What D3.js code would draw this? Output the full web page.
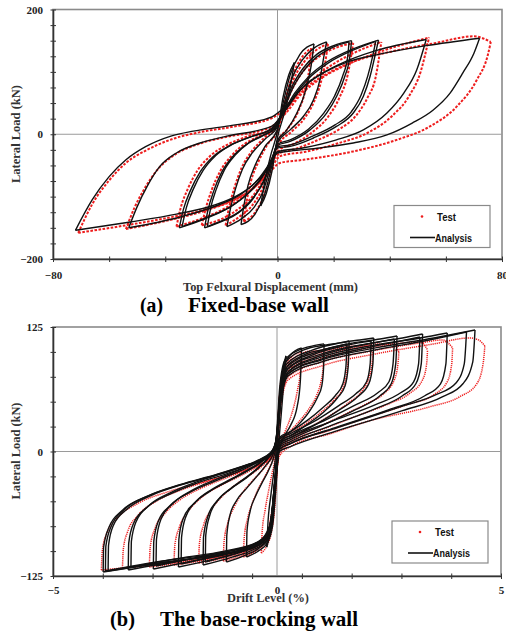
<!DOCTYPE html>
<html>
<head>
<meta charset="utf-8">
<script src="https://cdn.jsdelivr.net/npm/d3@7"></script>
<style>
  html, body { margin: 0; padding: 0; background: #fff; }
  svg { display: block; }
  .serif { font-family: "Liberation Serif", "Times New Roman", serif; font-weight: bold; }
  .sans { font-family: "Liberation Sans", Arial, sans-serif; font-weight: bold; }
</style>
</head>
<body>
<svg id="chart" width="506" height="635"></svg>
<script>
'use strict';

/*
  Hysteresis loops. Each loop is a pair of
  branches [upper, lower], both listed with increasing drift so they can be
  drawn with a monotone curve. Points are [displacement, load].
*/

// (a) fixed-base wall, analysis: [mm, kN]
var fixedAnalysis = [
  [[[-6, -115], [-4.5, -75], [-2.5, -35], [0, 5], [2, 60], [4, 95], [6, 115]],
   [[-6, -115], [-4, -95], [-2, -60], [0, -5], [2.5, 35], [4.5, 75], [6, 115]]],
  [[[-13, -145], [-12, -115], [-10.5, -82], [-8, -50], [-4.5, -20], [0, 8], [2, 50], [4.5, 95], [8, 128], [13, 145]],
   [[-13, -145], [-8, -128], [-4.5, -95], [-2, -50], [0, -10], [3, 5], [7, 35], [10, 70], [12, 110], [13, 145]]],
  [[[-18, -148], [-16.8, -120], [-15, -88], [-12.5, -56], [-9, -30], [-4.5, -8], [0, 12], [2.5, 50], [5, 88], [9, 120], [13, 138], [17.5, 148]],
   [[-18, -148], [-13, -136], [-8.5, -118], [-5, -90], [-2.5, -52], [0, -14], [4.5, 7], [9.2, 28.5], [12.8, 55], [15.1, 87], [16.3, 119], [17.5, 148]]],
  [[[-26, -150], [-24.8, -122], [-22.8, -92], [-20, -62], [-16, -36], [-11, -16], [-5, -2], [-1, 10], [2, 40], [5, 75], [9, 105], [14, 128], [20, 142], [26.4, 150]],
   [[-26, -150], [-20, -140], [-14, -126], [-9, -105], [-5, -75], [-2, -42], [0, -18], [4.5, -11.5], [11.6, 7], [17.5, 34], [21.1, 61], [24, 93], [25.8, 125], [26.4, 150]]],
  [[[-25, -148], [-23.8, -118], [-21.8, -88], [-19, -58], [-15, -33], [-10, -13], [-4.5, 0], [-1, 8], [2, 36], [5, 70], [9, 100], [14, 124], [19.5, 139], [25.5, 148]],
   [[-25, -148], [-19, -137], [-13, -122], [-8.5, -101], [-4.5, -72], [-2, -40], [0, -16], [4.5, -9], [11, 8], [16.5, 34], [20.3, 61], [23.2, 93], [25, 124], [25.5, 148]]],
  [[[-35, -150], [-33.5, -120], [-31, -90], [-27.5, -60], [-23, -36], [-17, -18], [-10, -5], [-2, 10], [2, 35], [6, 65], [11, 92], [18, 117], [27, 137], [36, 151]],
   [[-35, -150], [-26, -136], [-17, -117], [-10, -93], [-5, -66], [-2, -40], [0, -22], [4.5, -19.5], [12.8, -6], [21, 12.5], [27, 34], [30.6, 61], [33, 93], [34.7, 125], [36, 151]]],
  [[[-34, -148], [-32.5, -118], [-30, -88], [-26.5, -58], [-22, -34], [-16, -16], [-9, -3], [-2, 8], [2, 32], [6, 62], [11, 89], [18, 114], [26.5, 134], [35, 149]],
   [[-34, -148], [-25, -133], [-16, -114], [-9.5, -90], [-4.8, -63], [-2, -38], [0, -20], [4.5, -17], [12.5, -3], [20.5, 15], [26.3, 36], [29.8, 63], [32.2, 94], [33.9, 125], [35, 149]]],
  [[[-53, -150], [-50, -116], [-46.5, -84], [-42, -52], [-36, -30], [-27.6, -14], [-18, -3], [-2, 13], [3, 40], [8, 70], [14, 92], [22, 112], [35, 134], [53, 152]],
   [[-53, -150], [-35, -133], [-22, -115], [-13, -96], [-7, -73], [-2.5, -45], [0, -28], [9, -22], [21, -9], [30.6, 7], [39, 34], [45, 66], [49.6, 103], [53, 152]]],
  [[[-72, -154], [-66, -105], [-60, -68], [-54, -41], [-47, -20], [-38, -3], [-30, 5], [-18, 13], [-2, 28], [4, 50], [10, 80], [17, 100], [25, 116], [36, 128], [53, 142], [72, 154]],
   [[-72, -154], [-53, -141], [-36, -128], [-25, -117], [-16, -102], [-9, -82], [-3, -52], [0, -30], [4.5, -27], [15, -22], [27, -14], [39, -1], [48, 18], [55.5, 39], [61.5, 66], [66, 98], [70, 130], [72, 154]]]
];

// (a) fixed-base wall, test
var fixedTest = [
  [[[-12, -140], [-11, -108], [-9.5, -76], [-7, -46], [-3.8, -18], [0.5, 10], [2.5, 50], [5, 90], [8.5, 122], [12, 138]],
   [[-12, -140], [-7.5, -122], [-4.2, -90], [-1.8, -48], [0.5, -8], [3.5, 8], [7.5, 38], [10, 72], [11.3, 105], [12, 138]]],
  [[[-18.5, -146], [-17.2, -116], [-15.3, -85], [-12.8, -54], [-9.3, -28], [-4.8, -6], [0, 14], [2.5, 48], [5.5, 86], [9.5, 116], [13.5, 134], [18, 145]],
   [[-18.5, -146], [-13.5, -132], [-9, -114], [-5.3, -86], [-2.5, -50], [0.5, -16], [5, 4], [9.5, 25], [13, 52], [15.5, 84], [17, 115], [18, 145]]],
  [[[-27, -146], [-25.5, -118], [-23.5, -90], [-20.5, -60], [-16.5, -35], [-11.5, -15], [-5, 0], [-1, 9], [2, 36], [5, 70], [9, 100], [15, 125], [21, 139], [27, 146]],
   [[-27, -146], [-20, -136], [-14, -120], [-9, -100], [-5, -72], [-2, -42], [1, -24], [6, -15], [12, 2], [18, 28], [22, 58], [25, 95], [27, 146]]],
  [[[-36, -148], [-34.5, -118], [-32, -88], [-28.5, -58], [-24, -35], [-18, -17], [-11, -4], [-2, 8], [2, 30], [6, 58], [12, 86], [19, 110], [28, 132], [37, 148]],
   [[-36, -148], [-27, -135], [-18, -117], [-11, -95], [-5.5, -70], [-2, -44], [1, -30], [6, -24], [14, -10], [22, 8], [28, 30], [32, 58], [35, 92], [37, 148]]],
  [[[-54, -152], [-51, -118], [-47.5, -88], [-43, -58], [-37, -34], [-29, -17], [-19, -5], [-3, 10], [3, 34], [8, 62], [15, 88], [24, 110], [37, 133], [54, 155]],
   [[-54, -152], [-37, -136], [-24, -120], [-14, -102], [-7, -80], [-2, -52], [1, -35], [10, -28], [22, -14], [32, 2], [41, 30], [47, 62], [51, 100], [54, 155]]],
  [[[-71, -158], [-66, -112], [-60, -74], [-54, -46], [-46, -24], [-37, -7], [-28, 3], [-16, 12], [-2, 26], [4, 46], [10, 74], [18, 98], [28, 118], [40, 132], [56, 146], [70, 157], [76, 148]],
   [[-71, -158], [-54, -146], [-38, -133], [-26, -121], [-16, -106], [-9, -88], [-3, -62], [0.9, -46], [9.2, -41], [27, -27.5], [42.5, -9], [54.3, 12.5], [64, 45], [71, 87], [75, 128], [76, 148]]]
];

// (b) base-rocking wall, analysis: [% drift, kN]
var rockingAnalysis = [
  [[[-0.23, -96], [-0.2, -70], [-0.14, -45], [-0.07, -20], [0, 10], [0.06, 50], [0.13, 82], [0.2, 96]],
   [[-0.23, -96], [-0.16, -82], [-0.1, -55], [-0.04, -25], [0.03, 5], [0.09, 35], [0.15, 68], [0.2, 96]]],
  [[[-0.68, -106], [-0.67, -80], [-0.6, -60], [-0.48, -45], [-0.34, -32], [-0.2, -20], [-0.09, -8], [-0.02, 6], [0.04, 40], [0.12, 80], [0.3, 97], [0.55, 104]],
   [[-0.68, -106], [-0.42, -100], [-0.22, -92], [-0.1, -75], [-0.03, -40], [0.03, -4], [0.15, 14], [0.3, 26], [0.45, 45], [0.52, 70], [0.55, 104]]],
  [[[-1.13, -111], [-1.12, -84], [-1.05, -64], [-0.9, -49], [-0.68, -37], [-0.45, -25], [-0.25, -14], [-0.1, -4], [-0.03, 6], [0, 22], [0.06, 64], [0.18, 92], [0.5, 102], [0.8, 106], [1.05, 108]],
   [[-1.13, -111], [-0.7, -104], [-0.4, -97], [-0.2, -88], [-0.1, -70], [-0.03, -28], [0.04, 12], [0.25, 18], [0.5, 28], [0.72, 40], [0.9, 54], [1, 66], [1.04, 84], [1.05, 108]]],
  [[[-1.65, -114], [-1.64, -86], [-1.55, -66], [-1.35, -50], [-1.05, -38], [-0.7, -27], [-0.4, -16], [-0.18, -6], [-0.05, 4], [0, 20], [0.07, 62], [0.2, 90], [0.6, 102], [1.1, 107], [1.4, 109], [1.61, 111]],
   [[-1.65, -114], [-1, -106], [-0.55, -99], [-0.25, -90], [-0.12, -72], [-0.04, -30], [0.05, 10], [0.3, 16], [0.7, 28], [1.05, 40], [1.35, 54], [1.52, 66], [1.59, 86], [1.61, 111]]],
  [[[-1.6, -111], [-1.59, -84], [-1.5, -64], [-1.3, -48], [-1, -36], [-0.66, -25], [-0.37, -14], [-0.16, -4], [-0.04, 6], [0, 20], [0.07, 56], [0.2, 84], [0.6, 97], [1.1, 103], [1.38, 106], [1.56, 108]],
   [[-1.6, -111], [-0.98, -103], [-0.54, -96], [-0.24, -86], [-0.12, -68], [-0.04, -26], [0.05, 14], [0.3, 20], [0.7, 32], [1.02, 44], [1.3, 56], [1.47, 68], [1.54, 86], [1.56, 108]]],
  [[[-2.2, -116], [-2.19, -88], [-2.1, -68], [-1.85, -52], [-1.5, -40], [-1.05, -29], [-0.6, -18], [-0.28, -8], [-0.08, 2], [0, 18], [0.07, 60], [0.22, 88], [0.8, 102], [1.4, 109], [1.85, 112], [2.16, 114]],
   [[-2.2, -116], [-1.4, -108], [-0.8, -101], [-0.3, -91], [-0.13, -74], [-0.05, -32], [0.05, 8], [0.3, 14], [0.9, 28], [1.4, 42], [1.8, 55], [2.05, 68], [2.14, 88], [2.16, 114]]],
  [[[-2.14, -113], [-2.13, -86], [-2.04, -66], [-1.8, -50], [-1.45, -38], [-1, -27], [-0.56, -16], [-0.25, -6], [-0.07, 4], [0, 18], [0.07, 54], [0.22, 82], [0.8, 97], [1.4, 105], [1.82, 109], [2.1, 111]],
   [[-2.14, -113], [-1.36, -105], [-0.78, -98], [-0.3, -88], [-0.13, -70], [-0.05, -28], [0.05, 12], [0.3, 18], [0.9, 32], [1.38, 46], [1.76, 58], [2, 70], [2.08, 88], [2.1, 111]]],
  [[[-2.76, -118], [-2.75, -90], [-2.65, -70], [-2.38, -54], [-1.95, -41], [-1.4, -30], [-0.85, -20], [-0.4, -10], [-0.1, 0], [0, 16], [0.08, 58], [0.25, 86], [0.9, 100], [1.7, 109], [2.3, 113], [2.68, 116]],
   [[-2.76, -118], [-1.8, -109], [-1, -102], [-0.35, -92], [-0.14, -76], [-0.05, -34], [0.05, 6], [0.3, 12], [1.1, 28], [1.75, 42], [2.3, 56], [2.55, 68], [2.65, 88], [2.68, 116]]],
  [[[-2.7, -115], [-2.69, -88], [-2.59, -68], [-2.32, -52], [-1.9, -39], [-1.36, -28], [-0.82, -18], [-0.38, -8], [-0.09, 2], [0, 16], [0.08, 52], [0.25, 80], [0.9, 95], [1.7, 105], [2.26, 110], [2.62, 113]],
   [[-2.7, -115], [-1.76, -106], [-0.98, -99], [-0.35, -89], [-0.14, -72], [-0.05, -30], [0.05, 10], [0.3, 16], [1.1, 32], [1.72, 46], [2.25, 59], [2.5, 70], [2.59, 88], [2.62, 113]]],
  [[[-3.32, -119], [-3.31, -92], [-3.2, -72], [-2.9, -56], [-2.4, -43], [-1.8, -32], [-1.1, -22], [-0.5, -12], [-0.12, -2], [0, 14], [0.08, 55], [0.25, 83], [1, 98], [2, 108], [2.8, 114], [3.25, 118]],
   [[-3.32, -119], [-2.2, -110], [-1.2, -103], [-0.4, -93], [-0.16, -78], [-0.05, -36], [0.05, 4], [0.3, 10], [1.2, 26], [2.2, 43], [2.8, 56], [3.1, 68], [3.22, 88], [3.25, 118]]],
  [[[-3.26, -116], [-3.25, -90], [-3.14, -70], [-2.85, -54], [-2.36, -41], [-1.76, -30], [-1.08, -20], [-0.48, -10], [-0.11, 0], [0, 14], [0.08, 50], [0.25, 78], [1, 93], [2, 104], [2.76, 111], [3.19, 115]],
   [[-3.26, -116], [-2.16, -107], [-1.18, -100], [-0.4, -90], [-0.16, -74], [-0.05, -32], [0.05, 8], [0.3, 14], [1.2, 30], [2.2, 47], [2.76, 59], [3.05, 70], [3.16, 88], [3.19, 115]]],
  [[[-3.77, -120], [-3.76, -94], [-3.65, -74], [-3.35, -58], [-2.8, -44], [-2.1, -33], [-1.3, -23], [-0.6, -13], [-0.15, -4], [0, 12], [0.08, 52], [0.25, 80], [1, 95], [2.2, 107], [3.2, 114], [3.8, 119]],
   [[-3.77, -120], [-2.5, -111], [-1.4, -104], [-0.45, -94], [-0.18, -80], [-0.05, -38], [0.05, 2], [0.3, 8], [1.3, 24], [2.5, 42], [3.3, 56], [3.65, 68], [3.77, 88], [3.8, 119]]],
  [[[-3.83, -120], [-3.82, -95], [-3.7, -75], [-3.4, -58], [-2.85, -44], [-2.15, -33], [-1.35, -23], [-0.65, -13], [-0.18, -5], [0, 11], [0.08, 48], [0.25, 76], [1, 90], [2.2, 102], [3.4, 112], [4.23, 120]],
   [[-3.83, -120], [-2.55, -110], [-1.45, -103], [-0.48, -93], [-0.19, -80], [-0.05, -38], [0.05, 2], [0.3, 8], [1.35, 24], [2.7, 44], [3.55, 57], [4, 69], [4.18, 88], [4.23, 120]]],
  [[[-3.88, -121], [-3.87, -96], [-3.75, -76], [-3.45, -59], [-2.9, -45], [-2.2, -34], [-1.4, -24], [-0.7, -14], [-0.2, -6], [0, 10], [0.08, 50], [0.25, 78], [1, 92], [2.2, 104], [3.5, 114], [4.42, 122]],
   [[-3.88, -121], [-2.6, -112], [-1.5, -105], [-0.5, -95], [-0.2, -82], [-0.05, -40], [0.05, 0], [0.3, 5], [1.35, 21], [2.8, 41], [3.7, 55], [4.15, 68], [4.37, 90], [4.42, 122]]]
];

// (b) base-rocking wall, test
var rockingTest = [
  [[[-0.35, -102], [-0.33, -80], [-0.27, -60], [-0.19, -40], [-0.11, -22], [-0.04, -6], [0.01, 20], [0.06, 58], [0.15, 84], [0.35, 96], [0.55, 100]],
   [[-0.35, -102], [-0.22, -94], [-0.12, -80], [-0.05, -56], [0, -20], [0.06, 6], [0.18, 20], [0.33, 38], [0.45, 60], [0.52, 80], [0.55, 100]]],
  [[[-0.75, -106], [-0.73, -86], [-0.66, -68], [-0.55, -52], [-0.42, -38], [-0.28, -26], [-0.15, -14], [-0.05, -3], [0, 14], [0.06, 56], [0.16, 84], [0.45, 96], [0.8, 101], [0.98, 101], [1.04, 94]],
   [[-0.75, -106], [-0.48, -100], [-0.28, -92], [-0.15, -82], [-0.08, -66], [-0.02, -30], [0.04, 6], [0.2, 16], [0.45, 28], [0.7, 42], [0.88, 56], [0.98, 70], [1.03, 84], [1.04, 94]]],
  [[[-1.2, -110], [-1.18, -90], [-1.1, -72], [-0.96, -56], [-0.78, -42], [-0.56, -30], [-0.35, -20], [-0.17, -10], [-0.04, 0], [0, 16], [0.06, 56], [0.18, 84], [0.6, 96], [1.1, 103], [1.45, 105], [1.6, 98]],
   [[-1.2, -110], [-0.75, -104], [-0.42, -97], [-0.22, -88], [-0.12, -76], [-0.04, -40], [0.04, 6], [0.25, 16], [0.65, 28], [1, 40], [1.28, 52], [1.47, 64], [1.56, 80], [1.6, 98]]],
  [[[-1.75, -112], [-1.73, -92], [-1.64, -74], [-1.46, -58], [-1.2, -44], [-0.88, -32], [-0.55, -22], [-0.27, -12], [-0.07, -2], [0, 14], [0.07, 54], [0.2, 82], [0.7, 95], [1.3, 103], [1.85, 106], [2.06, 106], [2.14, 98]],
   [[-1.75, -112], [-1.1, -106], [-0.6, -99], [-0.3, -90], [-0.15, -78], [-0.05, -42], [0.05, 4], [0.3, 14], [0.8, 26], [1.25, 38], [1.6, 49], [1.88, 60], [2.05, 74], [2.12, 88], [2.14, 98]]],
  [[[-2.3, -114], [-2.28, -94], [-2.18, -76], [-1.98, -60], [-1.68, -46], [-1.25, -34], [-0.8, -24], [-0.4, -14], [-0.1, -4], [0, 12], [0.07, 52], [0.22, 80], [0.8, 94], [1.6, 103], [2.3, 108], [2.6, 108], [2.72, 100]],
   [[-2.3, -114], [-1.5, -108], [-0.9, -101], [-0.4, -92], [-0.18, -80], [-0.05, -44], [0.05, 2], [0.3, 12], [0.9, 24], [1.5, 37], [2, 48], [2.38, 58], [2.62, 72], [2.7, 88], [2.72, 100]]],
  [[[-2.85, -116], [-2.83, -96], [-2.73, -78], [-2.5, -62], [-2.15, -48], [-1.65, -36], [-1.1, -26], [-0.55, -16], [-0.15, -6], [0, 10], [0.08, 50], [0.25, 78], [0.9, 92], [1.8, 102], [2.8, 109], [3.2, 110], [3.36, 102]],
   [[-2.85, -116], [-1.9, -110], [-1.1, -103], [-0.45, -94], [-0.2, -82], [-0.06, -46], [0.05, 0], [0.3, 10], [1, 22], [1.8, 36], [2.5, 48], [2.95, 58], [3.25, 72], [3.34, 88], [3.36, 102]]],
  [[[-3.45, -117], [-3.43, -98], [-3.33, -80], [-3.1, -64], [-2.7, -50], [-2.1, -38], [-1.4, -28], [-0.7, -18], [-0.2, -8], [0, 8], [0.08, 48], [0.25, 75], [1, 90], [2, 100], [3.2, 109], [3.7, 112], [3.92, 104]],
   [[-3.45, -117], [-2.3, -111], [-1.3, -105], [-0.5, -96], [-0.22, -84], [-0.07, -48], [0.05, -2], [0.3, 8], [1.1, 20], [2, 34], [2.9, 47], [3.5, 57], [3.8, 70], [3.9, 88], [3.92, 104]]],
  [[[-3.92, -119], [-3.9, -100], [-3.8, -82], [-3.55, -66], [-3.1, -52], [-2.4, -40], [-1.6, -30], [-0.8, -20], [-0.25, -10], [0, 5], [0.08, 45], [0.25, 72], [1, 86], [2.2, 98], [3.5, 108], [4.3, 114], [4.5, 112], [4.64, 106]],
   [[-3.92, -119], [-2.6, -113], [-1.5, -107], [-0.6, -98], [-0.25, -86], [-0.08, -50], [0.05, -5], [0.3, 5], [1.2, 18], [2.08, 31], [3.42, 45], [4.08, 55], [4.46, 68], [4.6, 88], [4.64, 106]]]
];

// Axis labels and tick marks.
var fixedLoadLabels = [-200, 0, 200];
var fixedDispLabels = [-80, 0, 80];
var fixedLoadTicks = d3.range(-200, 201, 25);
var fixedDispTicks = d3.range(-80, 81, 20);
var rockingLoadLabels = [-125, 0, 125];
var rockingDriftLabels = [-5, 0, 5];
var rockingLoadTicks = d3.range(-125, 126, 25);
var rockingDriftTicks = d3.range(10).map(function(k) { return -5 + k * 10 / 9; });

var svg = d3.select('#chart');

/**
  Draw one hysteresis panel: frame, zero lines, series, axes and legend.

  @method drawPanel
  @param {object} cfg layout and series for the panel.
 */
function drawPanel(cfg) {
  var x = d3.scaleLinear().domain(cfg.xDomain).range([cfg.left, cfg.right]),
      y = d3.scaleLinear().domain(cfg.yDomain).range([cfg.bottom, cfg.top]),
      g = svg.append('g').attr('class', 'panel-' + cfg.id);

  var line = d3.line()
    .x(function(d) { return x(d[0]); })
    .y(function(d) { return y(d[1]); })
    .curve(d3.curveMonotoneX);

  svg.append('clipPath').attr('id', 'clip-' + cfg.id)
    .append('rect')
    .attr('x', cfg.left).attr('y', cfg.top)
    .attr('width', cfg.right - cfg.left)
    .attr('height', cfg.bottom - cfg.top);

  // Plot frame (grey on top and right).
  g.append('rect')
    .attr('x', cfg.left).attr('y', cfg.top)
    .attr('width', cfg.right - cfg.left)
    .attr('height', cfg.bottom - cfg.top)
    .attr('fill', 'none')
    .attr('stroke', '#8a8a8a')
    .attr('stroke-width', 1.6);

  // Zero lines.
  g.append('line')
    .attr('x1', cfg.left).attr('x2', cfg.right)
    .attr('y1', y(0)).attr('y2', y(0))
    .attr('stroke', '#9a9a9a').attr('stroke-width', 1);
  g.append('line')
    .attr('x1', x(0)).attr('x2', x(0))
    .attr('y1', cfg.top).attr('y2', cfg.bottom)
    .attr('stroke', '#9a9a9a').attr('stroke-width', 1);

  var plot = g.append('g').attr('clip-path', 'url(#clip-' + cfg.id + ')');

  plot.selectAll('path.test')
    .data(d3.merge(cfg.test))
    .enter().append('path')
    .attr('class', 'test')
    .attr('d', line)
    .attr('fill', 'none')
    .attr('stroke', '#ee1d1d')
    .attr('stroke-width', cfg.testWidth)
    .attr('stroke-dasharray', cfg.testDash);

  plot.selectAll('path.analysis')
    .data(d3.merge(cfg.analysis))
    .enter().append('path')
    .attr('class', 'analysis')
    .attr('d', line)
    .attr('fill', 'none')
    .attr('stroke', '#111')
    .attr('stroke-width', 1.4);

  // Tick marks crossing the axes.
  var yTicks = g.append('g')
    .attr('transform', 'translate(' + cfg.left + ',0)')
    .call(d3.axisLeft(y).tickValues(cfg.yTicks).tickFormat('').tickSizeOuter(0));
  yTicks.selectAll('.tick line').attr('x1', 3).attr('x2', -2.5).attr('stroke', '#333');
  yTicks.select('.domain').attr('stroke', '#333').attr('stroke-width', 1.6);

  var xTicks = g.append('g')
    .attr('transform', 'translate(0,' + cfg.bottom + ')')
    .call(d3.axisBottom(x).tickValues(cfg.xTicks).tickFormat('').tickSizeOuter(0));
  xTicks.selectAll('.tick line').attr('y1', -2.5).attr('y2', 3).attr('stroke', '#333');
  xTicks.select('.domain').attr('stroke', '#333').attr('stroke-width', 1.6);

  // Tick labels.
  var yLabels = g.append('g')
    .attr('transform', 'translate(' + cfg.left + ',0)')
    .call(d3.axisLeft(y).tickValues(cfg.yLabels).tickSize(0).tickPadding(10));
  var xLabels = g.append('g')
    .attr('transform', 'translate(0,' + cfg.bottom + ')')
    .call(d3.axisBottom(x).tickValues(cfg.xLabels).tickSize(0).tickPadding(cfg.xPad));
  [yLabels, xLabels].forEach(function(a) {
    a.select('.domain').remove();
    a.selectAll('text')
      .attr('class', 'serif')
      .attr('font-size', 11)
      .attr('fill', '#222');
  });

  // Axis titles.
  g.append('text')
    .attr('class', 'serif')
    .attr('transform', 'translate(20,' + cfg.yTitleY + ') rotate(-90)')
    .attr('text-anchor', 'middle')
    .attr('font-size', 12)
    .attr('fill', '#333')
    .attr('textLength', cfg.yTitleLen)
    .attr('lengthAdjust', 'spacingAndGlyphs')
    .text('Lateral Load (kN)');
  g.append('text')
    .attr('class', 'serif')
    .attr('x', cfg.xTitleX).attr('y', cfg.xTitleY)
    .attr('text-anchor', 'middle')
    .attr('font-size', 12)
    .attr('fill', '#333')
    .attr('textLength', cfg.xTitleLen)
    .attr('lengthAdjust', 'spacingAndGlyphs')
    .text(cfg.xTitle);

  // Caption under the panel.
  g.append('text')
    .attr('class', 'serif')
    .attr('x', cfg.captionX[0]).attr('y', cfg.captionY)
    .attr('font-size', 20).attr('fill', '#000')
    .attr('textLength', cfg.captionLen[0])
    .attr('lengthAdjust', 'spacingAndGlyphs')
    .text(cfg.caption[0]);
  g.append('text')
    .attr('class', 'serif')
    .attr('x', cfg.captionX[1]).attr('y', cfg.captionY)
    .attr('font-size', 20).attr('fill', '#000')
    .attr('textLength', cfg.captionLen[1])
    .attr('lengthAdjust', 'spacingAndGlyphs')
    .text(cfg.caption[1]);

  // Legend box.
  var lg = g.append('g').attr('transform', 'translate(' + cfg.legend[0] + ',' + cfg.legend[1] + ')');
  lg.append('rect')
    .attr('width', 96).attr('height', 42)
    .attr('fill', '#fff')
    .attr('stroke', '#8a8a8a').attr('stroke-width', 1.2);
  lg.append('circle')
    .attr('cx', 28).attr('cy', 11).attr('r', 1.3)
    .attr('fill', '#ee1d1d');
  lg.append('line')
    .attr('x1', 16).attr('x2', 41).attr('y1', 32).attr('y2', 32)
    .attr('stroke', '#111').attr('stroke-width', 1.6);
  lg.append('text')
    .attr('class', 'sans')
    .attr('x', 43).attr('y', 15)
    .attr('font-size', 11).attr('fill', '#111')
    .attr('textLength', 19).attr('lengthAdjust', 'spacingAndGlyphs')
    .text('Test');
  lg.append('text')
    .attr('class', 'sans')
    .attr('x', 41).attr('y', 36)
    .attr('font-size', 11).attr('fill', '#111')
    .attr('textLength', 37).attr('lengthAdjust', 'spacingAndGlyphs')
    .text('Analysis');
}

drawPanel({
  id: 'a',
  left: 53, right: 502, top: 9.5, bottom: 259,
  xDomain: [-80, 80], yDomain: [-200, 200],
  xTicks: fixedDispTicks, yTicks: fixedLoadTicks,
  xLabels: fixedDispLabels, yLabels: fixedLoadLabels, xPad: 12,
  analysis: fixedAnalysis, test: fixedTest,
  testDash: '2.6,1.5', testWidth: 2,
  yTitleY: 134, yTitleLen: 98,
  xTitle: 'Top Felxural Displacement (mm)', xTitleX: 270.5, xTitleY: 290.5, xTitleLen: 175,
  caption: ['(a)', 'Fixed-base wall'], captionX: [140, 188], captionLen: [23, 141], captionY: 312,
  legend: [394, 205.5]
});

drawPanel({
  id: 'b',
  left: 53, right: 501, top: 327, bottom: 576,
  xDomain: [-5, 5], yDomain: [-125, 125],
  xTicks: rockingDriftTicks, yTicks: rockingLoadTicks,
  xLabels: rockingDriftLabels, yLabels: rockingLoadLabels, xPad: 10,
  analysis: rockingAnalysis, test: rockingTest,
  testDash: '1.2,0.9', testWidth: 1.5,
  yTitleY: 451, yTitleLen: 97,
  xTitle: 'Drift Level (%)', xTitleX: 268, xTitleY: 601.5, xTitleLen: 82,
  caption: ['(b)', 'The base-rocking wall'], captionX: [110, 160], captionLen: [25, 198], captionY: 626,
  legend: [392, 521]
});
</script>
</body>
</html>
